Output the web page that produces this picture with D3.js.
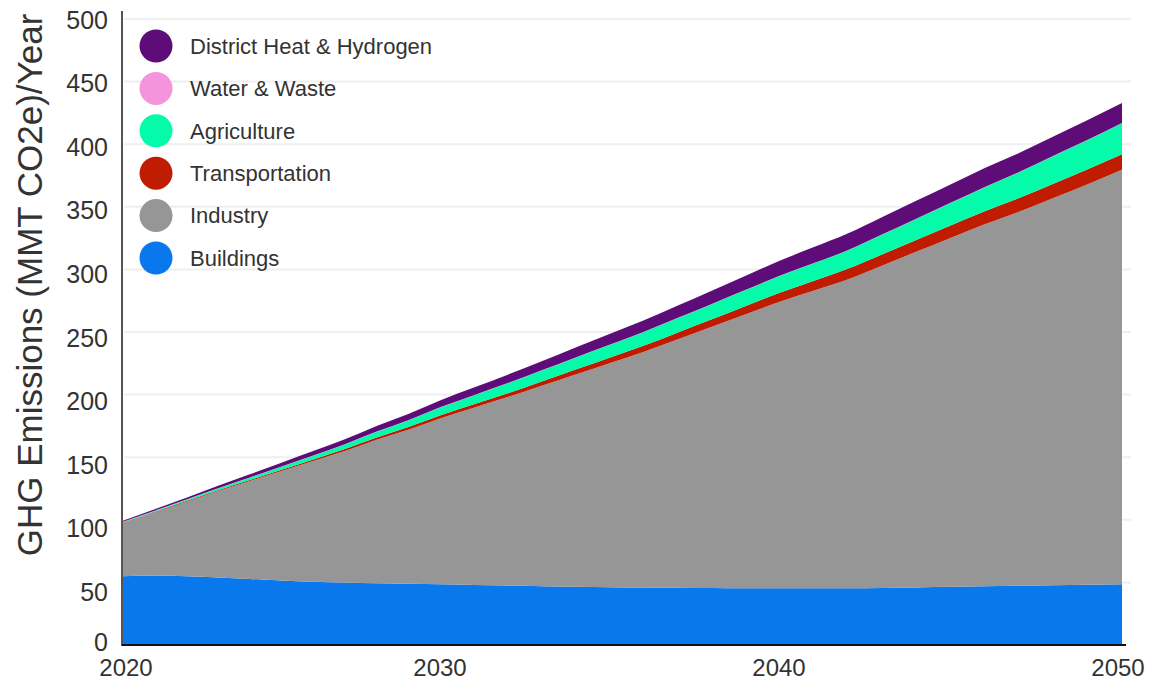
<!DOCTYPE html>
<html>
<head>
<meta charset="utf-8">
<script src="https://cdn.jsdelivr.net/npm/d3@7"></script>
<style>
  html, body { margin: 0; padding: 0; background: #fff; }
  svg { display: block; }
  text { font-family: "Liberation Sans", Arial, sans-serif; fill: #333; }
</style>
</head>
<body>
<svg id="chart" width="1151" height="686"></svg>
<script>
// ---- data ----
const years = [2020,2021,2022,2023,2024,2025,2026,2027,2028,2029,2030,2031,2032,2033,2034,2035,2036,2037,2038,2039,2040,2041,2042,2043,2044,2045,2046,2047,2048,2049,2050];
const buildings = [55.0,55.5,55.0,54.0,52.8,51.6,50.6,50.0,49.4,49.0,48.5,48.0,47.5,47.0,46.6,46.2,46.0,45.8,45.6,45.4,45.3,45.3,45.3,45.5,46.0,46.5,47.0,47.4,47.8,48.2,48.5];
const industry = [42.5,50.5,59.5,69.0,78.2,87.4,96.4,105.0,114.6,123.0,132.5,141.5,150.5,160.0,169.4,178.8,188.0,198.2,208.4,218.6,228.7,237.7,246.7,257.5,268.0,278.5,289.0,298.6,309.2,319.8,331.0];
const transportation = [0.3,0.4,0.5,0.6,0.8,1.0,1.2,1.5,1.8,2.1,2.4,2.7,3.0,3.5,4.0,4.5,5.0,5.5,6.0,6.6,7.2,7.8,8.5,9.0,9.5,10.0,10.5,11.0,11.5,12.0,12.5];
const agriculture = [0.5,0.7,1.0,1.4,1.8,2.4,3.0,3.7,4.5,5.3,6.2,7.1,8.0,8.7,9.5,10.2,10.8,11.4,12.0,12.7,13.3,13.9,14.5,15.6,16.8,18.0,19.2,20.6,22.0,23.3,24.7];
const waterWaste = [0.2,0.2,0.2,0.2,0.2,0.2,0.2,0.2,0.2,0.2,0.2,0.2,0.2,0.2,0.2,0.2,0.2,0.2,0.2,0.2,0.2,0.2,0.2,0.2,0.2,0.2,0.2,0.2,0.2,0.2,0.2];
const districtHeat = [0.8,1.1,1.5,2.0,2.5,3.0,3.5,4.0,4.5,5.0,5.5,6.1,6.7,7.3,8.0,8.6,9.2,9.8,10.5,11.2,12.0,12.7,13.5,13.9,14.3,14.6,15.0,15.2,15.5,15.8,16.0];

const seriesNames = ["Buildings","Industry","Transportation","Agriculture","Water & Waste","District Heat & Hydrogen"];
const seriesValues = [buildings, industry, transportation, agriculture, waterWaste, districtHeat];
const seriesColors = ["#0878ec","#969696","#c01c02","#03fba9","#f494dc","#5e0c78"];

const yTicks = [0,50,100,150,200,250,300,350,400,450,500];
const xTicks = [2020,2030,2040,2050];
const yTitle = "GHG Emissions (MMT CO2e)/Year";

// ---- layout ----
const svg = d3.select("#chart");
const x = d3.scaleLinear().domain([2020,2030,2040,2050]).range([123,440,779,1122]);
const y = d3.scaleLinear().domain([0,500]).range([645,19]);
// tick-label placement (labels in the source sit slightly off the gridlines)
const yLab = d3.scaleLinear().domain([0,50,500]).range([642,592,20]);

const table = years.map((yr,i) => {
  const row = {year: yr};
  seriesNames.forEach((n,k) => row[n] = seriesValues[k][i]);
  return row;
});
const stack = d3.stack().keys(seriesNames);
const layers = stack(table);

// gridlines
svg.append("g").selectAll("line").data(yTicks.filter(d => d>0)).join("line")
  .attr("x1", 124).attr("x2", 1131)
  .attr("y1", d => y(d)).attr("y2", d => y(d))
  .attr("stroke", "#efefef").attr("stroke-width", 2);

// areas
const area = d3.area()
  .x(d => x(d.data.year))
  .y0(d => y(d[0]))
  .y1(d => y(d[1]))
  .curve(d3.curveMonotoneX);
svg.append("g").selectAll("path").data(layers).join("path")
  .attr("d", area)
  .attr("fill", (d,i) => seriesColors[i]);

// axes lines
svg.append("line").attr("x1",122).attr("x2",122).attr("y1",11).attr("y2",646)
  .attr("stroke","#555").attr("stroke-width",2);
svg.append("line").attr("x1",122).attr("x2",1126).attr("y1",645).attr("y2",645)
  .attr("stroke","#111").attr("stroke-width",2);

// y tick labels
svg.append("g").selectAll("text").data(yTicks).join("text")
  .attr("x", 108).attr("y", d => yLab(d))
  .attr("dy", "0.35em")
  .attr("text-anchor", "end")
  .style("font-size", "25px")
  .text(d => d);

// x tick labels
svg.append("g").selectAll("text").data(xTicks).join("text")
  .attr("x", d => x(d) + (d===2020 ? 3 : d===2050 ? -4 : 0))
  .attr("y", 676)
  .attr("text-anchor", "middle")
  .style("font-size", "24px")
  .text(d => d);

// y title
svg.append("text")
  .attr("transform", "translate(42,285) rotate(-90)")
  .attr("text-anchor", "middle")
  .style("font-size", "35px")
  .text(yTitle);

// legend (top entry = District Heat)
const legendOrder = seriesNames.map((n,i) => i).reverse();
const lg = svg.append("g").selectAll("g").data(legendOrder).join("g")
  .attr("transform", (d,j) => `translate(156,${46 + j*42.4})`);
lg.append("circle").attr("r", 16.5).attr("fill", d => seriesColors[d]);
lg.append("text").attr("x", 34).attr("dy", "0.35em")
  .style("font-size", "22px")
  .text(d => seriesNames[d]);
</script>
</body>
</html>
